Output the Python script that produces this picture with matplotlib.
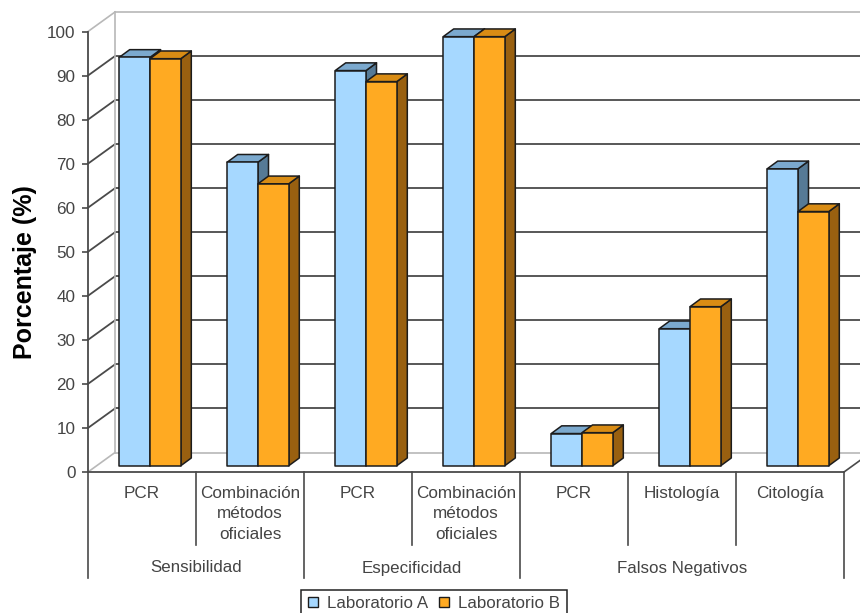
import matplotlib
matplotlib.use("Agg")
import matplotlib.pyplot as plt
from matplotlib.patches import Patch, Polygon, Rectangle

categories = ["PCR", "Combinación\nmétodos\noficiales", "PCR", "Combinación\nmétodos\noficiales",
              "PCR", "Histología", "Citología"]
groups = ["Sensibilidad", "Especificidad", "Falsos Negativos"]
group_spans = [(0, 2), (2, 4), (4, 7)]
lab_a = [92.7, 68.9, 89.7, 97.4, 7.3, 31.1, 67.4]
lab_b = [92.4, 64.0, 87.2, 97.4, 7.5, 36.1, 57.7]
yticks = list(range(0, 101, 10))

W, H = 860, 613
AX_L, AX_R, AX_TOP, AX_BOT = 88, 844, 31.5, 472
PX_X = (AX_R - AX_L) / len(categories)
PX_Y = (AX_BOT - AX_TOP) / 100

# depth of the box and of the bars, in data units
WALL_DX, WALL_DY = 27 / PX_X, 19.5 / PX_Y
BAR_X0, BAR_Y0 = 8 / PX_X, 6.3 / PX_Y
BAR_X1, BAR_Y1 = 18.5 / PX_X, 14 / PX_Y
BAR_W = 30.8 / PX_X

COL_A = ("#A6D8FF", "#7BA9CE", "#567A96")
COL_B = ("#FFAA22", "#D98C14", "#996010")
EDGE = "#1c1c1c"
TXT = "#444444"
GRID = "#4a4a4a"
WALL = "#b8b8b8"

plt.rcParams["font.family"] = ["Liberation Sans", "DejaVu Sans"]

fig = plt.figure(figsize=(W / 100, H / 100), dpi=100)
ax = fig.add_axes([AX_L / W, 1 - AX_BOT / H, (AX_R - AX_L) / W, (AX_BOT - AX_TOP) / H])
ax.set_xlim(0, len(categories))
ax.set_ylim(0, 100)
ax.patch.set_visible(False)
for side in ["top", "right"]:
    ax.spines[side].set_visible(False)
for side in ["left", "bottom"]:
    ax.spines[side].set_color(GRID)
    ax.spines[side].set_linewidth(1.3)
ax.set_xticks([])
ax.set_yticks(yticks)
ax.tick_params(axis="y", length=4.5, width=1.2, color=GRID, labelcolor=TXT, labelsize=12.3, pad=4.5)
ax.set_ylabel("Porcentaje (%)", fontsize=18, fontweight="bold", color="black")
ax.yaxis.set_label_coords(-0.068, 0.454)

xmax = len(categories) + 1

# back wall, floor and grid
for v in yticks:
    light = v in (0, 100)
    c = WALL if light else GRID
    lw = 1.2 if light else 1.3
    ax.plot([0, WALL_DX], [v, v + WALL_DY], color=c, lw=lw, clip_on=False, zorder=1)
    ax.plot([WALL_DX, xmax], [v + WALL_DY, v + WALL_DY], color=c, lw=lw, clip_on=False, zorder=1)
ax.plot([WALL_DX, WALL_DX], [WALL_DY, 100 + WALL_DY], color=WALL, lw=1.2, clip_on=False, zorder=1)
ax.plot([len(categories), len(categories) + WALL_DX], [0, WALL_DY], color=GRID, lw=1.2, clip_on=False, zorder=1)


def draw_bar(x, value, cols, z):
    front, top, side = cols
    x0, x1 = x + BAR_X0, x + BAR_X0 + BAR_W
    y0, y1 = BAR_Y0, value + BAR_Y0
    dx, dy = BAR_X1 - BAR_X0, BAR_Y1 - BAR_Y0
    style = dict(edgecolor=EDGE, linewidth=1.1, clip_on=False, zorder=z, joinstyle="round")
    ax.add_patch(Polygon([(x1, y0), (x1 + dx, y0 + dy), (x1 + dx, y1 + dy), (x1, y1)], facecolor=side, **style))
    ax.add_patch(Polygon([(x0, y1), (x1, y1), (x1 + dx, y1 + dy), (x0 + dx, y1 + dy)], facecolor=top, **style))
    ax.add_patch(Rectangle((x0, y0), BAR_W, value, facecolor=front, **style))


for i, (a, b) in enumerate(zip(lab_a, lab_b)):
    centre = i + 0.5
    draw_bar(centre - BAR_W, a, COL_A, 3 + i * 2)
    draw_bar(centre, b, COL_B, 4 + i * 2)

# two-level category axis under the floor
sep_inner = -(545 - AX_BOT) / PX_Y
sep_outer = -(578 - AX_BOT) / PX_Y
group_edges = {s for span in group_spans for s in span}
for i in range(len(categories) + 1):
    low = sep_outer if i in group_edges else sep_inner
    ax.plot([i, i], [0, low], color=GRID, lw=1.2, clip_on=False)

for i, label in enumerate(categories):
    ax.annotate(label, (i + 0.5, 0), xytext=(0, -14), textcoords="offset pixels",
                ha="center", va="top", fontsize=12.3, color=TXT, linespacing=1.44)
for name, (start, stop) in zip(groups, group_spans):
    ax.annotate(name, ((start + stop) / 2, 0), xytext=(0, -96), textcoords="offset pixels",
                ha="center", va="center", fontsize=12.2, color=TXT)

handles = [Patch(facecolor=COL_A[0], edgecolor=EDGE, label="Laboratorio A"),
           Patch(facecolor=COL_B[0], edgecolor=EDGE, label="Laboratorio B")]
leg = fig.legend(handles=handles, ncol=2, loc="center", bbox_to_anchor=(434 / W, 1 - 603.5 / H),
                 fontsize=12.2, fancybox=False, framealpha=1, edgecolor="#222222",
                 handlelength=0.6, handleheight=0.6, handletextpad=0.55, columnspacing=0.6,
                 borderpad=0.38, labelcolor=TXT)
leg.get_frame().set_linewidth(1.1)

fig.savefig("out.png", dpi=100, facecolor="white")
